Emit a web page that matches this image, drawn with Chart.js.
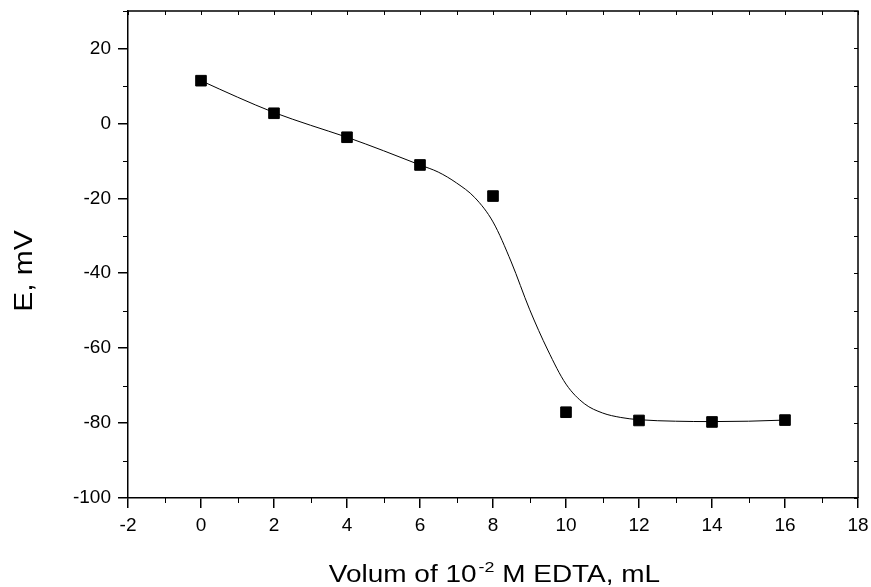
<!DOCTYPE html>
<html>
<head>
<meta charset="utf-8">
<script src="https://cdn.jsdelivr.net/npm/chart.js@4.4.0/dist/chart.umd.min.js"></script>
<style>
    html, body { margin: 0; padding: 0; background: #fff; }
    #wrap { width: 871px; height: 587px; }
</style>
</head>
<body>
<div id="wrap"><canvas id="titrationChart" width="871" height="587"></canvas></div>
<script>
// Measured points
const volumes = [0, 2, 4, 6, 8, 10, 12, 14, 16];
const potentials = [11.4, 2.7, -3.7, -11.1, -19.4, -77.1, -79.3, -79.7, -79.2];

// Fitted curve
const fitVolumes = [0, 1, 2, 3, 4, 5, 6, 6.5, 7, 7.5, 8, 8.5, 9, 9.5, 10, 10.5, 11, 11.5, 12, 13, 14, 15, 16];
const fitPotentials = [11.4, 7.0, 2.9, -0.5, -3.7, -7.3, -11.1, -13.0, -15.9, -19.8, -26.3, -37.0, -49.6, -60.5, -69.6, -74.8, -77.3, -78.5, -79.1, -79.5, -79.6, -79.5, -79.2];

// Axis ticks
const xTicks = [-2, 0, 2, 4, 6, 8, 10, 12, 14, 16, 18];
const yTicks = [-100, -80, -60, -40, -20, 0, 20];
const xRange = [-2, 18];
const yRange = [-100, 30];

const FONT = '"Liberation Sans", Arial, sans-serif';

function drawStretched(ctx, text, x, y, size, sx) {
    ctx.save();
    ctx.translate(x, y);
    ctx.scale(sx, 1);
    ctx.font = size + 'px ' + FONT;
    ctx.fillText(text, 0, 0);
    ctx.restore();
    ctx.font = size + 'px ' + FONT;
    return ctx.measureText(text).width * sx;
}

// Frame, minor ticks and axis titles
const framePlugin = {
    id: 'frame',
    afterDraw(chart) {
        const { ctx, chartArea: a, scales: { x, y } } = chart;
        ctx.save();
        ctx.strokeStyle = '#000';
        ctx.lineWidth = 1.5;
        ctx.beginPath();
        ctx.moveTo(a.left, a.top);
        ctx.lineTo(a.right, a.top);
        ctx.lineTo(a.right, a.bottom);
        ctx.stroke();

        ctx.lineWidth = 1;
        ctx.beginPath();
        for (let v = xRange[0]; v <= xRange[1]; v += 1) {
            const px = Math.round(x.getPixelForValue(v)) + 0.5;
            if (!xTicks.includes(v)) {
                ctx.moveTo(px, a.bottom);
                ctx.lineTo(px, a.bottom + 5);
            }
            ctx.moveTo(px, a.top);
            ctx.lineTo(px, a.top + 4);
        }
        for (let v = yRange[0]; v <= yRange[1]; v += 10) {
            const py = Math.round(y.getPixelForValue(v)) + 0.5;
            if (!yTicks.includes(v)) {
                ctx.moveTo(a.left, py);
                ctx.lineTo(a.left - 5, py);
            }
            ctx.moveTo(a.right, py);
            ctx.lineTo(a.right - 4, py);
        }
        ctx.stroke();

        // x title with superscript
        ctx.fillStyle = '#000';
        ctx.textBaseline = 'alphabetic';
        ctx.textAlign = 'left';
        const sx = 1.19;
        const parts = ['Volum of 10', '-2', ' M EDTA, mL'];
        ctx.font = '23.5px ' + FONT;
        const w0 = ctx.measureText(parts[0]).width * sx;
        const w2 = ctx.measureText(parts[2]).width * sx;
        ctx.font = '15px ' + FONT;
        const w1 = ctx.measureText(parts[1]).width * sx;
        const cx = (a.left + a.right) / 2 + 0.5;
        let tx = cx - (w0 + w1 + w2) / 2;
        const base = 582;
        tx += drawStretched(ctx, parts[0], tx, base, 23.5, sx);
        tx += drawStretched(ctx, parts[1], tx + 2, base - 10, 15, sx) + 2;
        drawStretched(ctx, parts[2], tx, base, 23.5, sx);

        // y title
        ctx.save();
        ctx.translate(32, 271);
        ctx.rotate(-Math.PI / 2);
        ctx.scale(1.2, 1);
        ctx.textAlign = 'center';
        ctx.font = '25px ' + FONT;
        ctx.fillText('E, mV', 0, 0);
        ctx.restore();
        ctx.restore();
    }
};

const ctx = document.getElementById('titrationChart');
new Chart(ctx, {
    type: 'scatter',
    data: {
        datasets: [
            {
                label: 'fit',
                data: fitVolumes.map((v, i) => ({ x: v, y: fitPotentials[i] })),
                showLine: true,
                borderColor: '#000',
                borderWidth: 1,
                pointRadius: 0,
                cubicInterpolationMode: 'monotone',
                order: 2
            },
            {
                label: 'E',
                data: volumes.map((v, i) => ({ x: v, y: potentials[i] })),
                pointStyle: 'rect',
                pointRadius: 7.5,
                pointBackgroundColor: '#000',
                pointBorderColor: '#000',
                pointBorderWidth: 1,
                order: 1
            }
        ]
    },
    options: {
        responsive: false,
        animation: false,
        devicePixelRatio: 1,
        layout: { padding: { top: 11, right: 13, left: 0, bottom: 0 } },
        plugins: {
            legend: { display: false },
            tooltip: { enabled: false }
        },
        scales: {
            x: {
                type: 'linear',
                min: xRange[0],
                max: xRange[1],
                afterFit: (scale) => {
                    scale.height = 89;
                    scale.paddingLeft = 0;
                    scale.paddingRight = 0;
                },
                afterBuildTicks: (scale) => { scale.ticks = xTicks.map(v => ({ value: v })); },
                grid: { drawOnChartArea: false, tickLength: 10, color: '#000', lineWidth: 1.5 },
                border: { display: true, color: '#000', width: 1.5 },
                ticks: { color: '#000', font: { family: FONT, size: 19 }, padding: 6, maxRotation: 0 }
            },
            y: {
                type: 'linear',
                min: yRange[0],
                max: yRange[1],
                afterFit: (scale) => {
                    scale.width = 128;
                    scale.paddingTop = 0;
                    scale.paddingBottom = 0;
                },
                afterBuildTicks: (scale) => { scale.ticks = yTicks.map(v => ({ value: v })); },
                grid: { drawOnChartArea: false, tickLength: 10, color: '#000', lineWidth: 1.5 },
                border: { display: true, color: '#000', width: 1.5 },
                ticks: { color: '#000', font: { family: FONT, size: 19 }, padding: 7 }
            }
        }
    },
    plugins: [framePlugin]
});
</script>
</body>
</html>
